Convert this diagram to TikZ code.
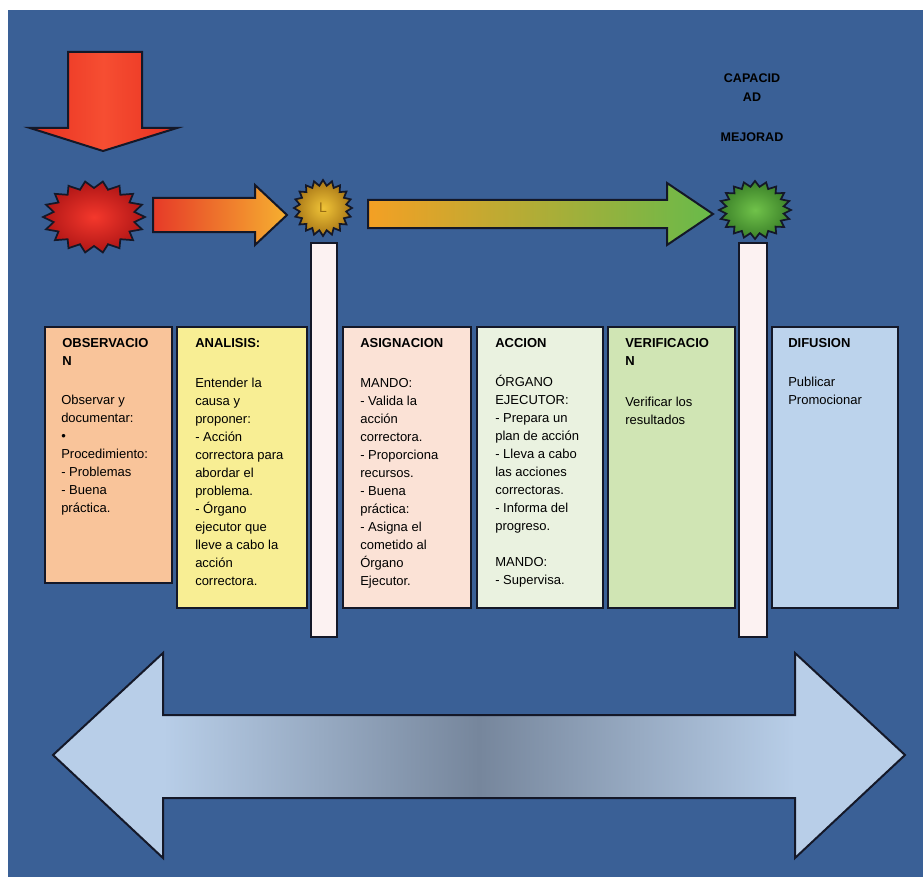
\documentclass[tikz,border=0pt]{standalone}
\usepackage{fontspec}
\setmainfont{Liberation Sans}
\definecolor{bgblue}{RGB}{58,96,150}
\definecolor{redA}{RGB}{232,48,32}
\definecolor{redB}{RGB}{246,78,50}
\definecolor{starRin}{RGB}{244,56,44}
\definecolor{starRout}{RGB}{176,22,22}
\definecolor{starGin}{RGB}{240,196,56}
\definecolor{starGout}{RGB}{168,118,22}
\definecolor{starVin}{RGB}{112,194,74}
\definecolor{starVout}{RGB}{58,128,40}
\definecolor{arrA}{RGB}{230,58,40}
\definecolor{arrB}{RGB}{246,176,48}
\definecolor{arrC}{RGB}{244,160,36}
\definecolor{arrD}{RGB}{226,212,56}
\definecolor{arrE}{RGB}{104,186,74}
\definecolor{colA}{RGB}{249,196,154}
\definecolor{colB}{RGB}{248,238,148}
\definecolor{colC}{RGB}{251,226,214}
\definecolor{colD}{RGB}{234,242,224}
\definecolor{colE}{RGB}{208,229,180}
\definecolor{colF}{RGB}{188,211,236}
\definecolor{barwhite}{RGB}{252,242,242}
\definecolor{lightblue}{RGB}{184,206,232}
\definecolor{midgray}{RGB}{118,134,156}
\definecolor{lettergold}{RGB}{150,108,20}
\definecolor{edge}{RGB}{20,24,40}
\newcommand\mycoltext[1]{\begin{tabular}[t]{@{}l@{}}#1\end{tabular}}
\tikzset{
  outline/.style={draw=edge, line width=1.5},
  colbox/.style={draw=edge, line width=1.8},
  hdr/.style={anchor=base west, inner sep=0, font=\fontsize{9.75}{13.5}\selectfont\bfseries},
  bodytxt/.style={anchor=base west, inner sep=0, font=\fontsize{9.75}{13.5}\selectfont},
  toptxt/.style={inner sep=0, font=\fontsize{9.4}{12}\selectfont\bfseries}
}
\begin{document}
\begin{tikzpicture}[x=0.75pt,y=-0.75pt]
\useasboundingbox (0,0) rectangle (923,877);
\fill[bgblue] (8,10) rectangle (923,877);

% red down arrow
\shadedraw[outline, left color=redA, right color=redA, middle color=redB]
  (68,52) -- (142,52) -- (142,128) -- (177,128) -- (103,151) -- (30,128) -- (68,128) -- cycle;

% stars
\shadedraw[outline, line width=1.3, inner color=starRin, outer color=starRout]
  plot[samples at={0,...,35}, variable=\k]
  ({94+ifthenelse(mod(\k,2)==0,51,41)*cos(\k*10)}, {217+ifthenelse(mod(\k,2)==0,36,29)*sin(\k*10)}) -- cycle;
\coordinate (s1) at (94,217);

\shadedraw[outline, line width=1.3, inner color=starGin, outer color=starGout]
  plot[samples at={0,...,39}, variable=\k]
  ({323+ifthenelse(mod(\k,2)==0,29,23.5)*cos(\k*9)}, {208+ifthenelse(mod(\k,2)==0,28,22.5)*sin(\k*9)}) -- cycle;
\node[text=lettergold, inner sep=0, font=\fontsize{10.5}{12}\selectfont] (s2) at (323,208) {L};

\shadedraw[outline, line width=1.3, inner color=starVin, outer color=starVout]
  plot[samples at={0,...,39}, variable=\k]
  ({755+ifthenelse(mod(\k,2)==0,36,29)*cos(\k*9)}, {210+ifthenelse(mod(\k,2)==0,29,23.5)*sin(\k*9)}) -- cycle;
\coordinate (s3) at (755,210);

% horizontal arrows
\shadedraw[outline, left color=arrA, right color=arrB]
  (153,198) -- (255,198) -- (255,185) -- (287,215) -- (255,245) -- (255,232) -- (153,232) -- cycle;
\shadedraw[outline, left color=arrC, middle color=arrD, right color=arrE]
  (368,200) -- (667,200) -- (667,183) -- (713,214) -- (667,245) -- (667,228) -- (368,228) -- cycle;

% white bars
\draw[outline, fill=barwhite] (311,243) rectangle (337,637);
\draw[outline, fill=barwhite] (739,243) rectangle (767,637);

% columns
\draw[colbox, fill=colA] (45,327) rectangle (172,583);
\draw[colbox, fill=colB] (177,327) rectangle (307,608);
\draw[colbox, fill=colC] (343,327) rectangle (471,608);
\draw[colbox, fill=colD] (477,327) rectangle (603,608);
\draw[colbox, fill=colE] (608,327) rectangle (735,608);
\draw[colbox, fill=colF] (772,327) rectangle (898,608);

\node[hdr] (h1) at (62,347.5) {\mycoltext{OBSERVACIO\\N}};
\node[bodytxt] (b1) at (61,404) {\mycoltext{Observar y\\documentar:\\•\\Procedimiento:\\- Problemas\\- Buena\\práctica.}};

\node[hdr] (h2) at (195,347.5) {ANALISIS:};
\node[bodytxt] (b2) at (195,387) {\mycoltext{Entender la\\causa y\\proponer:\\- Acción\\correctora para\\abordar el\\problema.\\- Órgano\\ejecutor que\\lleve a cabo la\\acción\\correctora.}};

\node[hdr] (h3) at (360,347.5) {ASIGNACION};
\node[bodytxt] (b3) at (360,387) {\mycoltext{MANDO:\\- Valida la\\acción\\correctora.\\- Proporciona\\recursos.\\- Buena\\práctica:\\- Asigna el\\cometido al\\Órgano\\Ejecutor.}};

\node[hdr] (h4) at (495,347.5) {ACCION};
\node[bodytxt] (b4) at (495,386) {\mycoltext{ÓRGANO\\EJECUTOR:\\- Prepara un\\plan de acción\\- Lleva a cabo\\las acciones\\correctoras.\\- Informa del\\progreso.\\[13.5pt]MANDO:\\- Supervisa.}};

\node[hdr] (h5) at (625,347.5) {\mycoltext{VERIFICACIO\\N}};
\node[bodytxt] (b5) at (625,406) {\mycoltext{Verificar los\\resultados}};

\node[hdr] (h6) at (788,347.5) {DIFUSION};
\node[bodytxt] (b6) at (788,386) {\mycoltext{Publicar\\Promocionar}};

% top right text
\node[toptxt] (t1) at (752,78) {CAPACID};
\node[toptxt] (t2) at (752,97) {AD};
\node[toptxt] (t3) at (752,137) {MEJORAD};

% bottom double arrow
\fill[lightblue] (53,755) -- (163,653) -- (163,715) -- (795,715) -- (795,653) -- (905,755) -- (795,858) -- (795,798) -- (163,798) -- (163,858) -- cycle;
\shade[left color=lightblue, right color=lightblue, middle color=midgray] (163,715) rectangle (795,798);
\draw[outline] (53,755) -- (163,653) -- (163,715) -- (795,715) -- (795,653) -- (905,755) -- (795,858) -- (795,798) -- (163,798) -- (163,858) -- cycle;
\end{tikzpicture}
\end{document}
